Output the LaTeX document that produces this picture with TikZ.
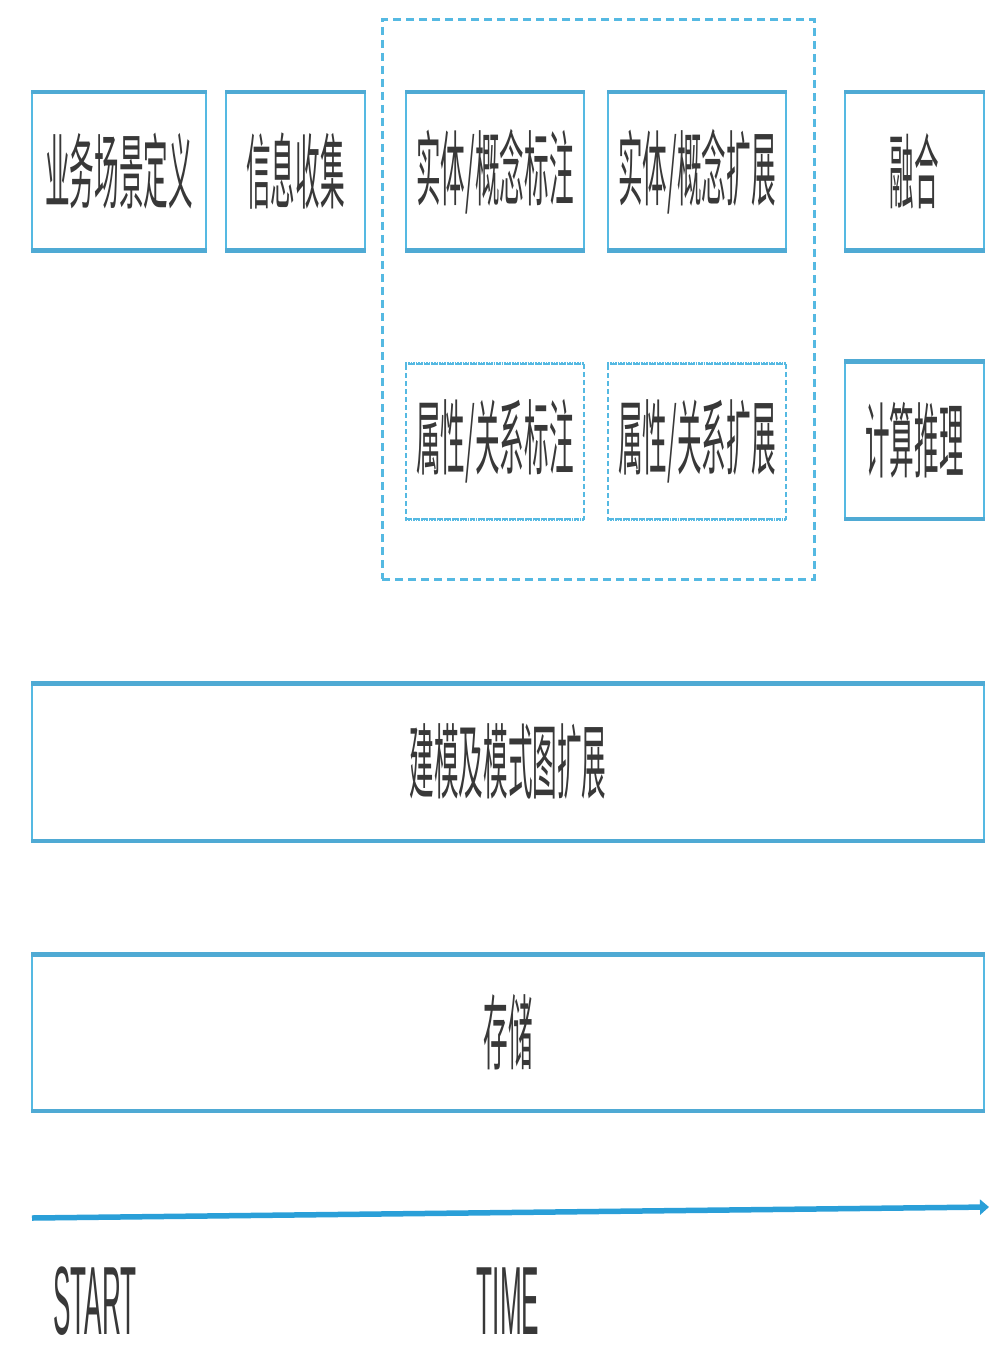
\documentclass[tikz,border=0pt]{standalone}
\usepackage{fontspec}
\newfontfamily\cjkfont[FakeStretch=0.30]{Noto Sans CJK SC}
\newfontfamily\latfont[FakeStretch=0.27]{Liberation Sans}
\usetikzlibrary{arrows.meta}
\definecolor{boxblue}{HTML}{55B9E2}
\definecolor{barblue}{HTML}{4FAAD4}
\definecolor{txt}{HTML}{383838}
\definecolor{arrowblue}{HTML}{2A9FD8}
\tikzset{
  topbar/.style={draw=barblue, line width=4.6pt},
  dotbar/.style={draw=boxblue, line width=2.4pt, dash pattern=on 1.6pt off 1pt},
  box/.style={draw=boxblue, line width=1.6pt, fill=white, inner sep=0pt,
    text=txt, font=\cjkfont\fontsize{82}{82}\selectfont,
    append after command={
      (\tikzlastnode.north west) edge[topbar] (\tikzlastnode.north east)
      (\tikzlastnode.south west) edge[topbar] (\tikzlastnode.south east)}},
  dotbox/.style={draw=boxblue, line width=1.2pt, dash pattern=on 5pt off 3pt,
    fill=white, inner sep=0pt, text=txt, font=\cjkfont\fontsize{82}{82}\selectfont,
    append after command={
      (\tikzlastnode.north west) edge[dotbar] (\tikzlastnode.north east)
      (\tikzlastnode.south west) edge[dotbar] (\tikzlastnode.south east)}},
  groupbox/.style={draw=boxblue, line width=3pt, dash pattern=on 8pt off 5pt, inner sep=0pt},
  label/.style={text=txt, inner sep=0pt, font=\latfont\fontsize{97}{97}\selectfont},
}
\begin{document}
\begin{tikzpicture}[x=1pt,y=-1pt]
\useasboundingbox (0,0) rectangle (1008,1372);
\fill[white] (0,0) rectangle (1008,1372);

\node[groupbox, minimum width=432pt, minimum height=559pt] (grp) at (598,299.5) {};

\node[box, minimum width=174pt, minimum height=157pt] (scene) at (119,171.5) {业务场景定义};
\node[box, minimum width=139pt, minimum height=157pt] (collect) at (295.5,171.5) {信息收集};
\node[box, minimum width=178pt, minimum height=157pt] (entlab) at (495,171.5) {实体/概念标注};
\node[box, minimum width=178pt, minimum height=157pt] (entext) at (697,171.5) {实体/概念扩展};
\node[box, minimum width=139pt, minimum height=157pt] (fuse) at (914.5,171.5) {融合};

\node[dotbox, minimum width=178pt, minimum height=155pt] (rellab) at (495,441.5) {属性/关系标注};
\node[dotbox, minimum width=178pt, minimum height=155pt] (relext) at (697,441.5) {属性/关系扩展};
\node[box, minimum width=139pt, minimum height=156pt] (infer) at (914.5,440) {计算推理};

\node[box, minimum width=952pt, minimum height=156pt] (model) at (508,762) {建模及模式图扩展};
\node[box, minimum width=952pt, minimum height=155pt] (store) at (508,1032.5) {存储};

\coordinate (tstart) at (32,1218);
\coordinate (tend) at (989,1207);
\draw[arrowblue, line width=5.5pt, -{Triangle[length=9pt,width=15pt]}] (tstart) -- (tend);

\node[label, anchor=base west] (start) at (53,1334) {START};
\node[label, anchor=base] (time) at (508,1334) {TIME};
\end{tikzpicture}
\end{document}
